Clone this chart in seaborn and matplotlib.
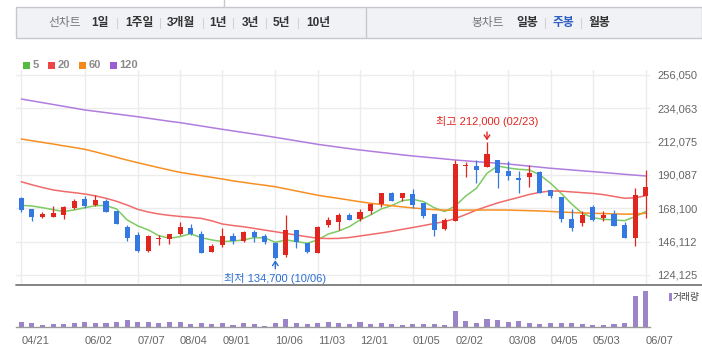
import matplotlib
matplotlib.use("Agg")
import matplotlib.pyplot as plt
from matplotlib.patches import Rectangle
from matplotlib.lines import Line2D
import numpy as np
import pandas as pd
import seaborn as sns

# weekly candles, 2023-04-21 .. 2024-06-07 (Fridays)
weeks = pd.date_range("2023-04-21", periods=60, freq="W-FRI")

opens = [174900, 167600, 162300, 162600, 163700, 168300, 174200, 170000, 173100, 166300,
         155700, 150500, 140100, 148000, 147800, 151300, 154900, 151100, 139500, 144100,
         149600, 146500, 152400, 150000, 145200, 137500, 153800, 145200, 138800, 157300,
         159000, 163700, 161200, 166500, 170900, 178400, 175100, 177500, 171600, 164300,
         154600, 159900, 196000, 196000, 195600, 200000, 192500, 187900, 189000, 192000,
         180200, 175500, 161000, 158600, 168900, 161900, 164300, 157100, 148700, 176400]
highs = [175300, 167600, 165400, 169800, 169800, 174200, 176200, 176900, 174000, 166300,
         157100, 152400, 150500, 150500, 151300, 159000, 157700, 152900, 144300, 155100,
         151800, 152900, 154000, 151100, 146100, 163700, 154000, 145400, 156400, 162300,
         165200, 164800, 167400, 171100, 178200, 178800, 178400, 180800, 171800, 164300,
         161700, 200000, 198600, 200000, 212000, 200000, 199100, 192700, 196400, 192500,
         180200, 175800, 167600, 166500, 170300, 166500, 167000, 158800, 181500, 193400]
lows = [165900, 159900, 161700, 162600, 161200, 167600, 168100, 169600, 165400, 157700,
        146700, 139500, 139500, 144100, 144700, 150500, 150500, 138600, 139500, 142800,
        144700, 146100, 145600, 144700, 134700, 136200, 142100, 138800, 138800, 156000,
        153800, 160600, 159700, 164300, 168700, 172900, 173100, 168500, 161900, 149800,
        154000, 159700, 189000, 185000, 195300, 181700, 186800, 178400, 182400, 178400,
        174700, 159300, 153300, 156600, 159700, 159900, 156400, 148700, 143400, 161500]
closes = [167200, 162600, 164300, 165000, 169200, 172900, 169800, 173600, 165900, 157900,
          148700, 140100, 149800, 148500, 151100, 155700, 151100, 138800, 143200, 149800,
          146500, 152200, 149100, 146100, 135400, 153500, 145600, 139500, 155700, 160400,
          163700, 160600, 165400, 170900, 178000, 173100, 178200, 170500, 163200, 154000,
          160400, 197500, 196400, 193600, 203900, 191600, 189600, 187000, 191600, 178400,
          176000, 161200, 155300, 163700, 160400, 163700, 156600, 148700, 176600, 182100]
volume = [160000, 130000, 70000, 100000, 100000, 130000, 160000, 130000, 130000, 160000,
          220000, 160000, 160000, 130000, 160000, 160000, 100000, 130000, 100000, 130000,
          70000, 130000, 100000, 40000, 130000, 250000, 130000, 100000, 130000, 160000,
          130000, 100000, 160000, 100000, 130000, 100000, 70000, 100000, 100000, 100000,
          70000, 490000, 190000, 130000, 250000, 220000, 160000, 190000, 130000, 100000,
          130000, 130000, 130000, 100000, 70000, 70000, 100000, 130000, 940000, 1090000]

ma5 = [170000, 169600, 168500, 167200, 165900, 167000, 168500, 169800, 170000, 167600,
       160400, 156500, 153800, 150000, 148300, 149400, 151300, 148700, 147200, 146100,
       146500, 147200, 148700, 148600, 145600, 147200, 146100, 145000, 147200, 151100,
       153100, 156000, 160400, 163700, 167600, 169900, 173100, 174000, 172500, 168500,
       165900, 169600, 176200, 181300, 191200, 196000, 194700, 193800, 193400, 190100,
       184600, 178000, 170900, 164800, 161900, 160800, 160400, 159900, 162600, 165900]
ma20 = [185600, 183600, 181800, 180200, 179200, 178400, 177500, 176300, 174700, 172700,
        170200, 167400, 165600, 164300, 163400, 162700, 162100, 161400, 159800, 157700,
        156700, 155900, 154800, 153700, 152600, 151500, 150400, 149300, 148300, 148100,
        148200, 148800, 149800, 150800, 151800, 152900, 154200, 155400, 156700, 158000,
        159300, 161300, 164000, 166900, 169300, 171600, 173500, 175300, 177200, 178600,
        179500, 179400, 178900, 178400, 177900, 177100, 175900, 174700, 175000, 176400]
ma60 = [213800, 212700, 211600, 210500, 209300, 208200, 207000, 205300, 203500, 201700,
        199900, 198200, 196500, 194900, 193300, 191800, 190700, 189600, 188500, 187400,
        186200, 185200, 184200, 183300, 182300, 180900, 179500, 178100, 176700, 175600,
        174600, 173500, 172400, 171400, 170600, 169800, 169000, 168300, 167700, 167200,
        166900, 166800, 166850, 166900, 166950, 166950, 166900, 166700, 166500, 166300,
        166000, 165600, 165300, 165000, 164800, 164600, 164400, 164200, 164300, 164800]
ma120 = [240200, 239000, 237800, 236600, 235400, 234200, 232950, 232100, 231200, 230300,
         229400, 228500, 227500, 226500, 225500, 224600, 223500, 222400, 221300, 220200,
         219150, 218100, 217050, 216000, 214900, 213750, 212600, 211450, 210300, 209350,
         208400, 207450, 206550, 205750, 204950, 204150, 203350, 202600, 201950, 201300,
         200650, 199950, 199400, 198850, 198350, 197800, 197300, 196600, 195900, 195200,
         194500, 193950, 193400, 192800, 192250, 191700, 191100, 190500, 189950, 189400]

price_ticks = [124125, 146112, 168100, 190087, 212075, 234063, 256050]
date_labels = ["04/21", "06/02", "07/07", "08/04", "09/01", "10/06", "11/03",
               "12/01", "01/05", "02/02", "03/08", "04/05", "05/03", "06/07"]

RED, BLUE = "#e1261f", "#3479e1"
ma_colors = {"5": "#7dcb62", "20": "#f06a6a", "60": "#f78f22", "120": "#b07ddf"}
legend_colors = {"5": "#55bb3f", "20": "#ee4646", "60": "#f5891c", "120": "#9c5cd3"}

sns.set_style("white")
plt.rcParams["font.family"] = ["Liberation Sans", "Noto Sans CJK KR", "DejaVu Sans"]

W, H = 702, 359
fig = plt.figure(figsize=(W / 100, H / 100), dpi=100)


def fx(x):
    return x / W


def fy(y):
    return 1 - y / H


ax = fig.add_axes([fx(16), fy(284.5), fx(650) - fx(16), fy(70) - fy(284.5)])
axv = fig.add_axes([fx(16), fy(327.3), fx(650) - fx(16), fy(284.5) - fy(327.3)], sharex=ax)

df = pd.DataFrame({"date": weeks, "open": opens, "high": highs, "low": lows,
                   "close": closes, "volume": volume})
df["i"] = np.arange(len(df))
up = df["close"] >= df["open"]
colors = np.where(up, RED, BLUE)

# moving averages
ma = pd.DataFrame({"i": df["i"], "5": ma5, "20": ma20, "60": ma60, "120": ma120})
ma_long = ma.melt(id_vars="i", var_name="ma", value_name="price")
sns.lineplot(data=ma_long, x="i", y="price", hue="ma", palette=ma_colors,
             lw=1.1, legend=False, ax=ax)

# candles
ax.vlines(df["i"], df["low"], df["high"], colors=colors, lw=0.9, zorder=3)
body = (df["close"] - df["open"]).abs().clip(lower=700)
ax.bar(df["i"], body, bottom=np.minimum(df["open"], df["close"]), width=0.48,
       color=colors, lw=0, zorder=4)

tick_idx = [k for k, d in enumerate(weeks) if d.strftime("%m/%d") in date_labels]

ax.set_xlim(-0.5, 59.4)
ax.set_ylim(117780, 259350)
ax.set_yticks(price_ticks)
ax.set_yticklabels([f"{v:,}" for v in price_ticks])
ax.yaxis.tick_right()
ax.tick_params(axis="y", length=0, pad=5, labelsize=8, labelcolor="#666666")
ax.set_xticks(tick_idx)
ax.tick_params(axis="x", length=0, labelbottom=False)
ax.grid(True, color="#ececec", lw=1)
ax.set_axisbelow(True)
for s in ["top", "left", "right", "bottom"]:
    ax.spines[s].set_visible(False)
ax.set_xlabel("")
ax.set_ylabel("")

# separator between price and volume panels, full width
fig.add_artist(Line2D([fx(16), fx(702)], [fy(284.5), fy(284.5)], color="#7a7a7a", lw=1.3))

# high / low markers
hi = df["high"].idxmax()
lo = df["low"].idxmin()
ax.annotate("", xy=(hi, df["high"][hi]), xytext=(0, 7), textcoords="offset points",
            xycoords="data", arrowprops=dict(arrowstyle="->,head_length=0.3,head_width=0.2",
                                             color=RED, lw=1, shrinkA=0, shrinkB=1))
ax.annotate(f"최고 {df['high'][hi]:,} ({weeks[hi]:%m/%d})", xy=(hi, df["high"][hi]),
            xytext=(0, 14.5), textcoords="offset points", ha="center", va="center",
            fontsize=8, color=RED)
ax.annotate("", xy=(lo, df["low"][lo]), xytext=(0, -7), textcoords="offset points",
            arrowprops=dict(arrowstyle="->,head_length=0.3,head_width=0.2",
                            color="#2a6fd6", lw=1, shrinkA=0, shrinkB=1))
ax.annotate(f"최저 {df['low'][lo]:,} ({weeks[lo]:%m/%d})", xy=(lo, df["low"][lo]),
            xytext=(0, -14), textcoords="offset points", ha="center", va="center",
            fontsize=8, color="#2a6fd6")

# volume
axv.bar(df["i"], df["volume"], width=0.48, color="#9b84c7", lw=0)
axv.set_ylim(0, 1285000)
axv.set_yticks([])
axv.set_xticks(tick_idx)
axv.set_xticklabels(date_labels, ha="left")
axv.tick_params(axis="x", length=3, width=0.8, color="#999999", pad=3,
                labelsize=8, labelcolor="#666666")
for s in ["top", "left", "right"]:
    axv.spines[s].set_visible(False)
axv.spines["bottom"].set_color("#9a9a9a")
axv.spines["bottom"].set_linewidth(1)

fig.patches.append(Rectangle((fx(669), fy(301)), fx(2.5), fy(293) - fy(301),
                             transform=fig.transFigure, color="#9b84c7", lw=0))
fig.text(fx(673), fy(297), "거래량", fontsize=7, color="#444444", va="center")

# MA legend
lx = [23, 48, 79, 110]
for (name, c), x in zip(legend_colors.items(), lx):
    fig.patches.append(Rectangle((fx(x), fy(69)), fx(7), fy(62) - fy(69),
                                 transform=fig.transFigure, color=c, lw=0))
    fig.text(fx(x + 9.5), fy(65.5), name, fontsize=8, fontweight="bold",
             color="#8a8a8a", va="center")

# period tab bar
fig.patches.append(Rectangle((fx(16), fy(38.3)), fx(702 - 16), fy(7.3) - fy(38.3),
                             transform=fig.transFigure, facecolor="#f1f2f6",
                             edgecolor="#c6c8cd", lw=1))
fig.add_artist(Line2D([fx(366), fx(366)], [fy(8), fy(38)], color="#c6c8cd", lw=1))
fig.add_artist(Line2D([fx(224), fx(224)], [fy(0), fy(7)], color="#c6c8cd", lw=1))

tabs_left = [("선차트", 65, "#777777", "normal"), ("1일", 100, "#333333", "bold"),
             ("1주일", 139, "#333333", "bold"), ("3개월", 181, "#333333", "bold"),
             ("1년", 217.5, "#333333", "bold"), ("3년", 250, "#333333", "bold"),
             ("5년", 281.5, "#333333", "bold"), ("10년", 318, "#333333", "bold")]
tabs_right = [("봉차트", 487.5, "#777777", "normal"), ("일봉", 527.5, "#333333", "bold"),
              ("주봉", 563, "#2d5ec2", "bold"), ("월봉", 599.5, "#333333", "bold")]
for label, x, c, wt in tabs_left + tabs_right:
    fig.text(fx(x), fy(23), label, fontsize=8.5, color=c, fontweight=wt,
             ha="center", va="center")
for x in [117, 160, 203, 233, 266, 298, 545, 581]:
    fig.add_artist(Line2D([fx(x), fx(x)], [fy(18), fy(28)], color="#d0d2d6", lw=0.8))

fig.savefig("out.png", dpi=100)
